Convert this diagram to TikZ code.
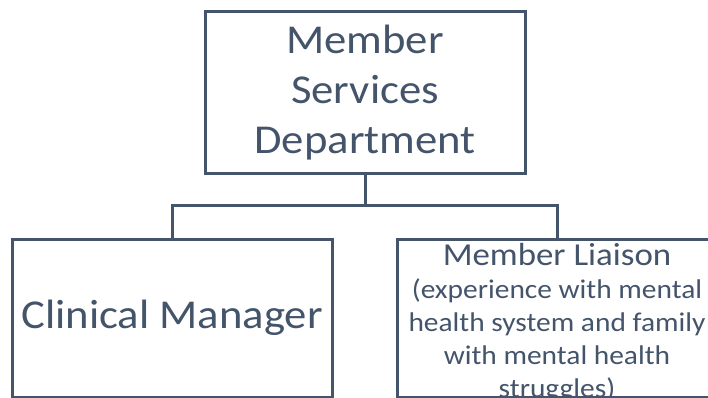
\documentclass[tikz,border=0pt]{standalone}
\usepackage{fontspec}
\setmainfont[FakeStretch=1.09]{Carlito}
\definecolor{slate}{HTML}{44546A}
\begin{document}
\begin{tikzpicture}[x=1pt,y=-1pt,
  box/.style={draw=slate,line width=3pt,rectangle,inner sep=0pt},
  big/.style={text=slate,align=center,font=\fontsize{41}{50}\selectfont},
  small/.style={text=slate,align=center,font=\fontsize{27}{33}\selectfont},
  conn/.style={draw=slate,line width=3pt}]
\useasboundingbox (0,0) rectangle (708,398);
\clip (0,0) rectangle (708,398);
\node[box,minimum width=320pt,minimum height=161pt] (top) at (365,92.5) {};
\node[big] (toptxt) at (top.center) {Member\\Services\\Department};
\node[box,minimum width=320pt,minimum height=158pt] (left) at (172,318) {};
\node[big] (lefttxt) at (left.center) {Clinical Manager};
\node[box,minimum width=320pt,minimum height=158pt] (right) at (557,318) {};
\node[small] (righttxt) at ([yshift=-5pt]right.center) {{\fontsize{32}{33}\selectfont Member Liaison}\\(experience with mental\\health system and family\\with mental health\\struggles)};
\coordinate (mid) at (365,205);
\draw[conn] (top.south) -- (mid);
\draw[conn] (left.north) |- (mid) -| (right.north);
\end{tikzpicture}
\end{document}
